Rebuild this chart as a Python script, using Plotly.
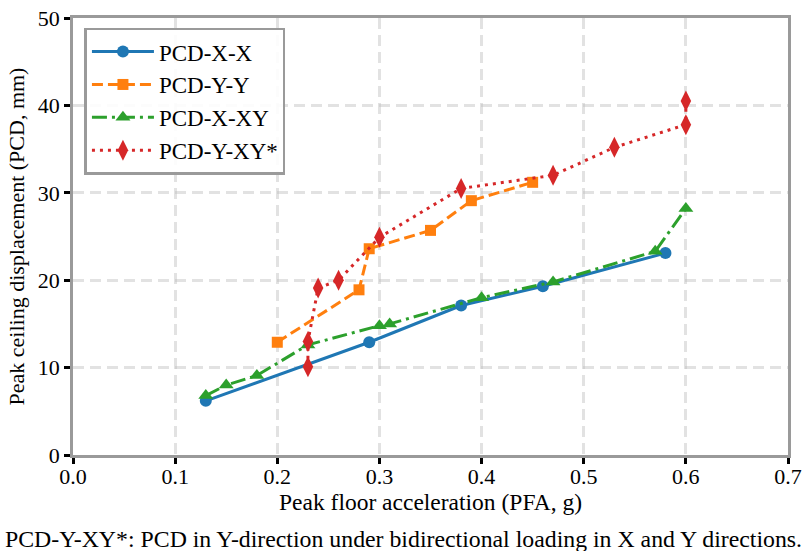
import plotly.graph_objects as go

x_xx = [0.13, 0.29, 0.38, 0.46, 0.58]
y_xx = [6.2, 12.9, 17.1, 19.3, 23.1]

x_yy = [0.20, 0.28, 0.29, 0.35, 0.39, 0.45]
y_yy = [12.9, 18.9, 23.6, 25.7, 29.1, 31.2]

x_xxy = [0.13, 0.15, 0.18, 0.23, 0.30, 0.31, 0.40, 0.47, 0.57, 0.60]
y_xxy = [6.8, 8.0, 9.1, 12.6, 14.8, 15.0, 18.0, 19.8, 23.3, 28.2]

x_yxy = [0.23, 0.23, 0.24, 0.26, 0.30, 0.38, 0.47, 0.53, 0.60, 0.60]
y_yxy = [10.1, 13.0, 19.1, 20.0, 24.9, 30.5, 32.0, 35.2, 37.8, 40.5]

x_ticks = [0.0, 0.1, 0.2, 0.3, 0.4, 0.5, 0.6, 0.7]
y_ticks = [0, 10, 20, 30, 40, 50]

FONT = "Liberation Serif"

fig = go.Figure()
fig.add_trace(go.Scatter(x=x_xx, y=y_xx, name="PCD-X-X", mode="lines+markers",
                         line=dict(color="#1f77b4", width=3, dash="solid"),
                         marker=dict(symbol="circle", size=12, color="#1f77b4")))
fig.add_trace(go.Scatter(x=x_yy, y=y_yy, name="PCD-Y-Y", mode="lines+markers",
                         line=dict(color="#ff7f0e", width=3, dash="11px,5px"),
                         marker=dict(symbol="square", size=11, color="#ff7f0e")))
fig.add_trace(go.Scatter(x=x_xxy, y=y_xxy, name="PCD-X-XY", mode="lines+markers",
                         line=dict(color="#2ca02c", width=3, dash="15px,5px,3px,5px"),
                         marker=dict(symbol="triangle-up", size=13, color="#2ca02c")))
fig.add_trace(go.Scatter(x=x_yxy, y=y_yxy, name="PCD-Y-XY*", mode="lines+markers",
                         line=dict(color="#d62728", width=3, dash="3px,5px"),
                         marker=dict(symbol="diamond-tall", size=15, color="#d62728")))

axis_common = dict(
    showgrid=True, gridcolor="rgba(190,190,190,0.45)", gridwidth=2.5, griddash="11px,6px",
    showline=True, linecolor="#9a9a9a", linewidth=2.5, mirror=True,
    ticks="outside", ticklen=6, tickwidth=2.5, tickcolor="black",
    zeroline=False, automargin=False,
    tickfont=dict(family=FONT, size=22, color="black"),
)

fig.update_xaxes(range=[0, 0.7], tickvals=x_ticks, ticktext=[f"{v:.1f}" for v in x_ticks],
                 ticklabelstandoff=-6,
                 title=dict(text="Peak floor acceleration (PFA, g)",
                            font=dict(family=FONT, size=23.5, color="black"), standoff=3),
                 **axis_common)
fig.update_yaxes(range=[0, 50], tickvals=y_ticks, ticktext=[str(v) for v in y_ticks],
                 title=dict(text="Peak ceiling displacement (PCD, mm)",
                            font=dict(family=FONT, size=22, color="black"), standoff=8),
                 **axis_common)

fig.update_layout(
    width=804, height=551,
    margin=dict(l=73, r=16, t=18, b=96),
    plot_bgcolor="white", paper_bgcolor="white",
    font=dict(family=FONT, size=22, color="black"),
    legend=dict(x=0.016, y=0.978, xanchor="left", yanchor="top",
                bordercolor="#9a9a9a", borderwidth=2.5, bgcolor="rgba(255,255,255,0.9)",
                font=dict(family=FONT, size=23, color="black"),
                tracegroupgap=0, itemwidth=62),
    annotations=[dict(text="PCD-Y-XY*: PCD in Y-direction under bidirectional loading in X and Y directions.",
                      xref="paper", yref="paper", x=-0.098, y=-0.157, xanchor="left", yanchor="top",
                      showarrow=False, font=dict(family=FONT, size=23.8, color="black"))],
)

fig.write_html("out.html", config={"displayModeBar": False},
               post_script="document.body.style.margin='0';")
